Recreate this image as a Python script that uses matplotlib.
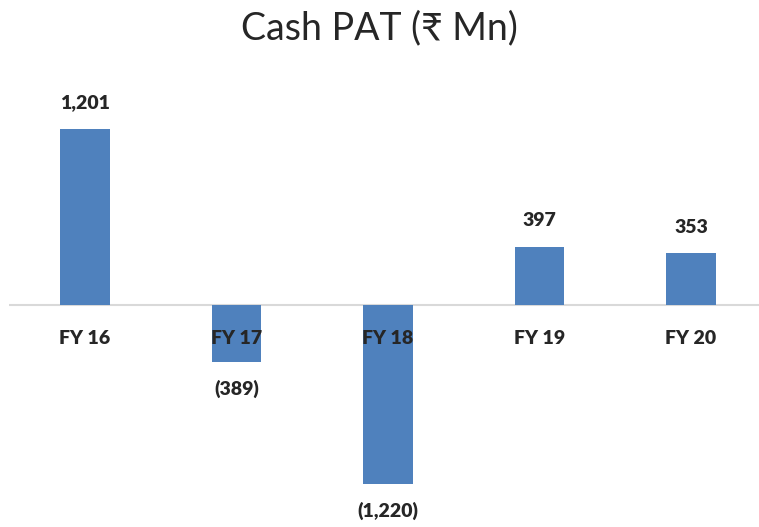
import matplotlib
matplotlib.use('Agg')
import matplotlib.pyplot as plt

# data
years = ['FY 16', 'FY 17', 'FY 18', 'FY 19', 'FY 20']
cash_pat = [1201, -389, -1220, 397, 353]
labels = ['1,201', '(389)', '(1,220)', '397', '353']

plt.rcParams['font.family'] = ['Lato', 'DejaVu Sans']

fig = plt.figure(figsize=(7.59, 5.27), dpi=100)
# axes spans whole height, zero line at y=305px
ax = fig.add_axes([9.25 / 759, 0, 757.5 / 759, 1])
px = 0.1466  # pixels per unit
ax.set_ylim(-(527 - 305) / px, 305 / px)
ax.set_xlim(-0.5, 4.5)

x = range(len(years))
ax.bar(x, cash_pat, width=0.33, color='#4F81BD', zorder=2)
ax.axhline(0, color='#d9d9d9', lw=1.5, zorder=1)

txt = '#262626'
for i, (v, lab) in enumerate(zip(cash_pat, labels)):
    ax.annotate(years[i], (i, 0), xytext=(0, -33), textcoords='offset pixels',
                ha='center', va='center', fontsize=14, fontweight='heavy', color=txt, zorder=3)
    off = 26 if v > 0 else -27
    ax.annotate(lab, (i, v), xytext=(0, off), textcoords='offset pixels',
                ha='center', va='center', fontsize=14, fontweight='heavy', color=txt, zorder=3)

ax.axis('off')
fig.text(0.5, 1 - 28 / 527, 'Cash PAT (₹ Mn)', ha='center', va='center',
         fontsize=27, color=txt)

fig.savefig('out.png', dpi=100)
